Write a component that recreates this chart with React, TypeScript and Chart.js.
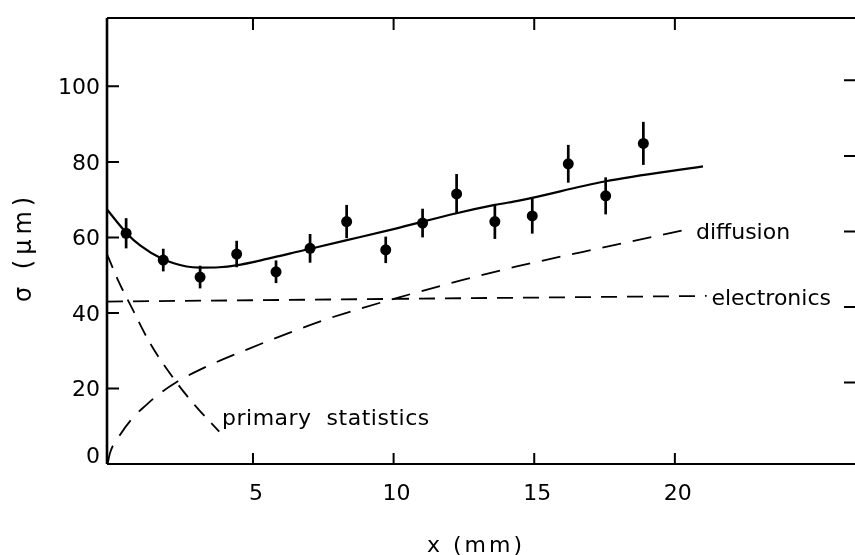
import React, { useEffect, useRef } from 'react';
import { Chart, registerables } from 'chart.js';

Chart.register(...registerables);

// Measured points with error bars
const pointX = [0.49, 1.81, 3.12, 4.42, 5.82, 7.03, 8.33, 9.72, 11.03, 12.24, 13.6, 14.93, 16.21, 17.54, 18.88];
const pointY = [61.1, 54.0, 49.5, 55.6, 50.9, 57.1, 64.2, 56.7, 63.8, 71.5, 64.2, 65.7, 79.5, 71.0, 84.9];
const pointErr = [4.0, 3.0, 3.0, 3.5, 3.0, 3.8, 4.4, 3.5, 3.8, 5.3, 4.6, 4.7, 5.0, 4.9, 5.7];

// Solid fitted curve
const fitX = [-0.19, 0.5, 1.0, 1.8, 2.64, 3.1, 3.8, 4.4, 5.5, 6.7, 8.3, 10.0, 12.24, 13.6, 14.5, 17.5, 21.0];
const fitY = [67.4, 61.2, 57.8, 54.2, 52.3, 52.0, 52.1, 52.6, 54.3, 56.4, 59.2, 62.2, 66.4, 68.6, 69.8, 74.8, 78.8];

// Dashed contributions
const diffX = [-0.17, -0.08, 0.21, 0.69, 1.2, 1.64, 2.26, 3.12, 4.78, 6.38, 7.8, 10.23, 12.6, 14.38, 16.74, 20.6];
const diffY = [0, 3.0, 7.0, 11.9, 15.6, 18.4, 21.6, 25.0, 30.3, 35.0, 38.8, 44.2, 49.0, 52.3, 56.2, 62.4];

const elecX = [-0.19, 21.13];
const elecY = [43.0, 44.5];

const primX = [-0.19, 0.2, 0.69, 1.34, 2.26, 3.0, 3.8];
const primY = [55.6, 48.7, 41.4, 32.0, 21.8, 15.0, 8.6];

// Axis ticks
const xTicks = [5, 10, 15, 20];
const yTicks = [0, 20, 40, 60, 80, 100];
const rightTicks = [20, 40, 60, 80, 100];

const FONT = '"DejaVu Sans", sans-serif';

const toXY = (xs: number[], ys: number[]) => xs.map((x, i) => ({ x, y: ys[i] }));

const framePlugin = {
  id: 'frame',
  beforeDatasetsDraw(chart: any) {
    const { ctx, scales } = chart;
    const xs = scales.x, ys = scales.y;
    ctx.save();
    ctx.strokeStyle = '#000';
    ctx.lineWidth = 2.7;
    pointX.forEach((x, i) => {
      const px = xs.getPixelForValue(x);
      ctx.beginPath();
      ctx.moveTo(px, ys.getPixelForValue(pointY[i] - pointErr[i]));
      ctx.lineTo(px, ys.getPixelForValue(pointY[i] + pointErr[i]));
      ctx.stroke();
    });
    ctx.restore();
  },
  afterDatasetsDraw(chart: any) {
    const { ctx, chartArea: a, scales } = chart;
    const xs = scales.x, ys = scales.y;
    ctx.save();
    ctx.strokeStyle = '#000';
    ctx.fillStyle = '#000';
    // frame
    ctx.lineWidth = 2.6;
    ctx.beginPath();
    ctx.moveTo(a.left, a.top);
    ctx.lineTo(a.left, a.bottom);
    ctx.stroke();
    ctx.lineWidth = 2.2;
    ctx.beginPath();
    ctx.moveTo(a.left, a.top);
    ctx.lineTo(a.right, a.top);
    ctx.moveTo(a.left, a.bottom);
    ctx.lineTo(a.right, a.bottom);
    ctx.stroke();
    // ticks
    ctx.lineWidth = 2;
    ctx.beginPath();
    xTicks.forEach((v) => {
      const px = xs.getPixelForValue(v);
      ctx.moveTo(px, a.bottom);
      ctx.lineTo(px, a.bottom - 11);
      ctx.moveTo(px, a.top);
      ctx.lineTo(px, a.top + 12);
    });
    yTicks.forEach((v) => {
      if (v === 0) return;
      const py = ys.getPixelForValue(v);
      ctx.moveTo(a.left, py);
      ctx.lineTo(a.left + 12, py);
    });
    rightTicks.forEach((v) => {
      const py = ys.getPixelForValue(v) - 6;
      ctx.moveTo(a.right, py);
      ctx.lineTo(a.right - 12, py);
    });
    ctx.stroke();

    // tick labels
    ctx.font = `22px ${FONT}`;
    ctx.textAlign = 'right';
    ctx.textBaseline = 'alphabetic';
    yTicks.forEach((v) => {
      const py = ys.getPixelForValue(v);
      const base = v === 0 ? a.bottom - 1 : py + 8;
      ctx.fillText(String(v), a.left - 7, base);
    });
    ctx.textAlign = 'center';
    xTicks.forEach((v) => {
      ctx.fillText(String(v), xs.getPixelForValue(v) + 3, a.bottom + 36);
    });

    // curve annotations
    ctx.textAlign = 'left';
    ctx.fillText('diffusion', xs.getPixelForValue(20.75), ys.getPixelForValue(59.5));
    ctx.fillText('electronics', xs.getPixelForValue(21.3), ys.getPixelForValue(42.0));
    (ctx as any).letterSpacing = '0.5px';
    ctx.fillText('primary  statistics', xs.getPixelForValue(3.9), ys.getPixelForValue(10.3));

    // axis titles
    (ctx as any).letterSpacing = '3px';
    ctx.fillText('x (mm)', 427, 552);
    ctx.translate(31, 302);
    ctx.rotate(-Math.PI / 2);
    ctx.font = `24px ${FONT}`;
    (ctx as any).letterSpacing = '5px';
    ctx.fillText('σ (μm)', 0, 0);
    ctx.restore();
  },
};

export default function App() {
  const ref = useRef<HTMLCanvasElement>(null);
  useEffect(() => {
    const canvas = ref.current!;
    const dashed = (xs: number[], ys: number[], dash: number[]) => ({
      data: toXY(xs, ys),
      showLine: true,
      borderColor: '#000',
      borderWidth: 1.8,
      borderDash: dash,
      pointRadius: 0,
      cubicInterpolationMode: 'monotone' as const,
    });
    const chart = new Chart(canvas, {
      type: 'scatter',
      data: {
        datasets: [
          {
            data: toXY(fitX, fitY),
            showLine: true,
            borderColor: '#000',
            borderWidth: 2.2,
            pointRadius: 0,
            cubicInterpolationMode: 'monotone',
          } as any,
          dashed(diffX, diffY, [19, 12]) as any,
          dashed(elecX, elecY, [16, 10]) as any,
          dashed(primX, primY, [15, 10]) as any,
          {
            data: toXY(pointX, pointY),
            showLine: false,
            pointRadius: 5.5,
            pointBackgroundColor: '#000',
            pointBorderWidth: 0,
          } as any,
        ],
      },
      options: {
        responsive: false,
        animation: false,
        devicePixelRatio: 1,
        layout: { padding: { top: 18, right: 14, left: 0, bottom: 0 } },
        plugins: { legend: { display: false }, tooltip: { enabled: false } },
        scales: {
          x: {
            type: 'linear',
            min: -0.19,
            max: 26.44,
            grid: { display: false },
            border: { display: false },
            ticks: { display: false },
            afterFit: (s: any) => { s.height = 91; },
          },
          y: {
            type: 'linear',
            min: 0,
            max: 118.1,
            grid: { display: false },
            border: { display: false },
            ticks: { display: false },
            afterFit: (s: any) => { s.width = 107; },
          },
        },
      } as any,
      plugins: [framePlugin],
    });
    return () => chart.destroy();
  }, []);
  return (
    <div style={{ position: 'fixed', left: 0, top: 0, width: 855, height: 555, overflow: 'hidden', background: '#fff' }}>
      <canvas ref={ref} width={870} height={555} style={{ display: 'block', width: 870, height: 555 }} />
    </div>
  );
}
